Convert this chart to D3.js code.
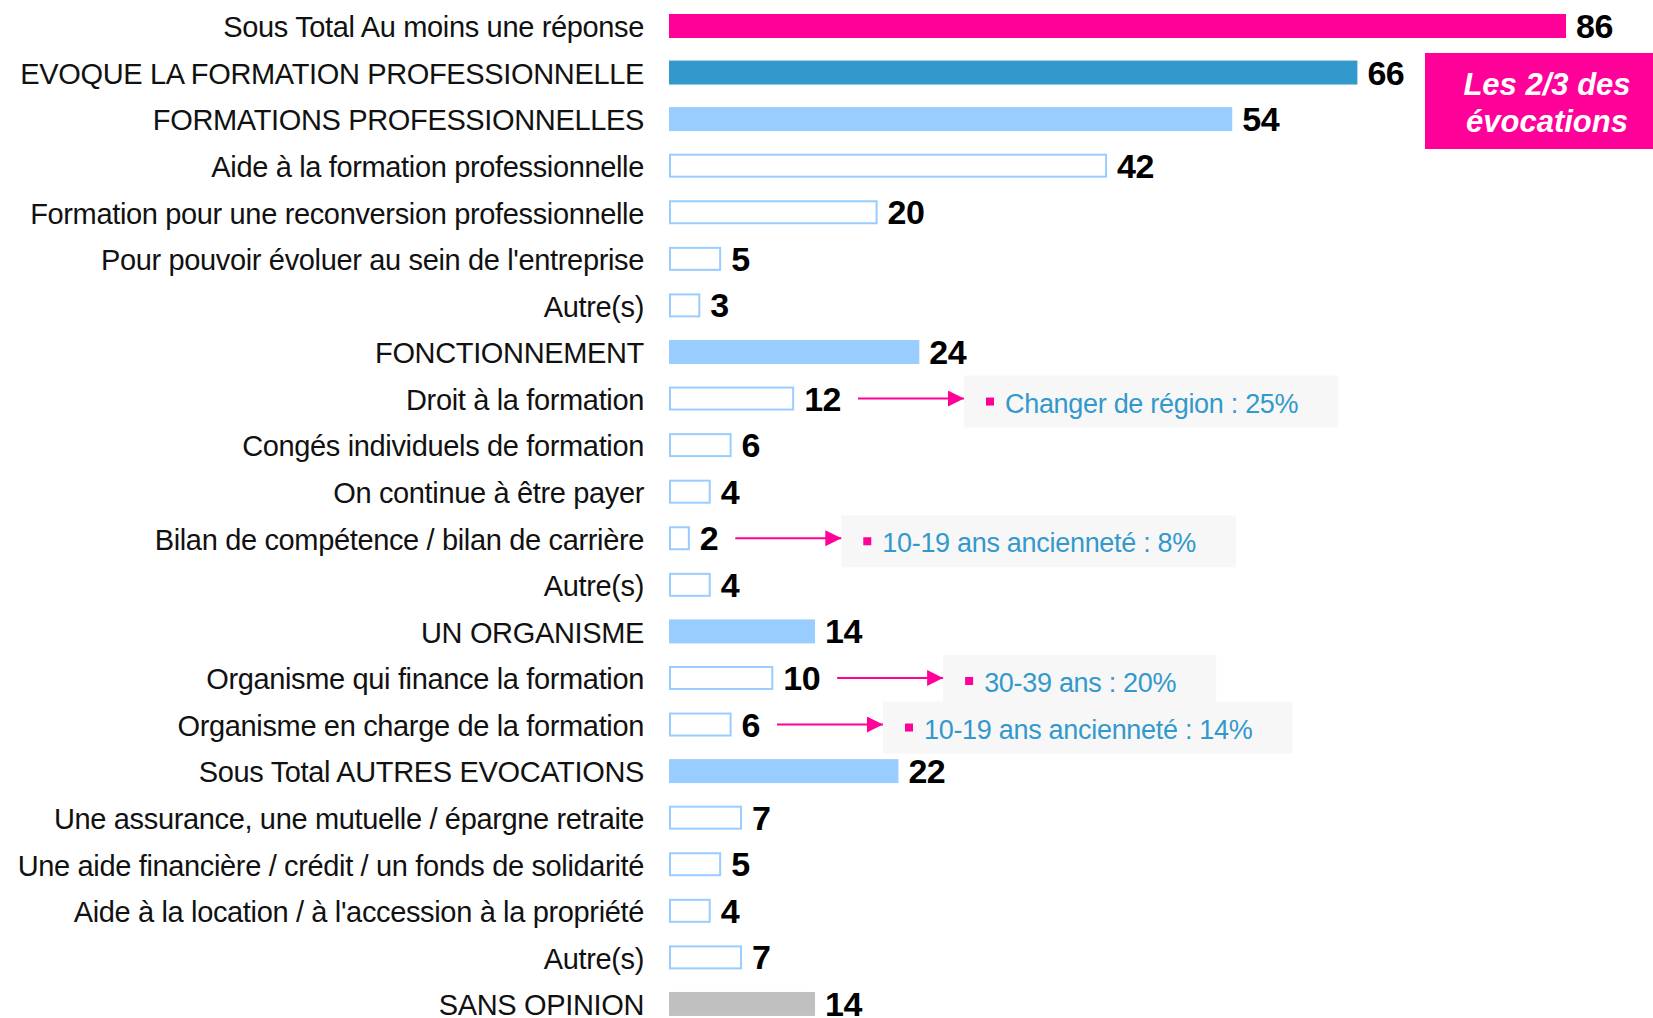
<!DOCTYPE html>
<html><head><meta charset="utf-8">
<script src="https://cdn.jsdelivr.net/npm/d3@7"></script>
<style>body{margin:0;background:#fff} svg{display:block}</style>
</head><body>
<svg id="c" width="1653" height="1018"></svg>
<script>
const labels = [
  "Sous Total Au moins une réponse",
  "EVOQUE LA FORMATION PROFESSIONNELLE",
  "FORMATIONS PROFESSIONNELLES",
  "Aide à la formation professionnelle",
  "Formation pour une reconversion professionnelle",
  "Pour pouvoir évoluer au sein de l'entreprise",
  "Autre(s)",
  "FONCTIONNEMENT",
  "Droit à la formation",
  "Congés individuels de formation",
  "On continue à être payer",
  "Bilan de compétence / bilan de carrière",
  "Autre(s)",
  "UN ORGANISME",
  "Organisme qui finance la formation",
  "Organisme en charge de la formation",
  "Sous Total AUTRES EVOCATIONS",
  "Une assurance, une mutuelle / épargne retraite",
  "Une aide financière / crédit / un fonds de solidarité",
  "Aide à la location / à l'accession à la propriété",
  "Autre(s)",
  "SANS OPINION"
];
const values = [86,66,54,42,20,5,3,24,12,6,4,2,4,14,10,6,22,7,5,4,7,14];
const kinds = ["total","main","sub","item","item","item","item","sub","item","item","item","item","item","sub","item","item","sub","item","item","item","item","none"];
const noteRows = [8, 11, 14, 15];
const noteTexts = ["Changer de région : 25%", "10-19 ans ancienneté : 8%", "30-39 ans : 20%", "10-19 ans ancienneté : 14%"];
const calloutLines = ["Les 2/3 des", "évocations"];

const PINK = "#FF0099";
const fills = {total: PINK, main: "#3399CC", sub: "#99CCFF", item: "#FFFFFF", none: "#C0C0C0"};

const svg = d3.select("#c");
const x = d3.scaleLinear().domain([0, 86]).range([669, 1566]);
const step = 46.57;
const y = d3.scaleBand().domain(d3.range(labels.length))
  .range([2.7, 2.7 + step * labels.length]).paddingInner(0.485).paddingOuter(0.2425);
const bw = y.bandwidth();

// Category axis (labels)
const ax = svg.append("g").attr("transform", `translate(${x(0)},0)`)
  .call(d3.axisLeft(y).tickSize(0).tickPadding(25).tickFormat(i => labels[i]));
ax.select(".domain").remove();
ax.selectAll("text")
  .attr("dy", "0.39em")
  .attr("fill", "#111")
  .style("font-family", "'Liberation Sans', Arial, sans-serif")
  .style("font-size", "29px")
  .style("letter-spacing", "-0.35px");

// Bars
svg.append("g").selectAll("rect").data(values).join("rect")
  .attr("x", (d, i) => kinds[i] === "item" ? x(0) + 1 : x(0))
  .attr("y", (d, i) => kinds[i] === "item" ? y(i) + 1 : y(i))
  .attr("width", (d, i) => kinds[i] === "item" ? x(d) - x(0) - 2 : x(d) - x(0))
  .attr("height", (d, i) => kinds[i] === "item" ? bw - 2 : bw)
  .attr("fill", (d, i) => fills[kinds[i]])
  .attr("stroke", (d, i) => kinds[i] === "item" ? "#99CCFF" : "none")
  .attr("stroke-width", 2);

// Value labels
const vl = svg.append("g").selectAll("text").data(values).join("text")
  .attr("x", d => x(d) + 10)
  .attr("y", (d, i) => y(i) + bw / 2 + 12)
  .attr("fill", "#000")
  .style("font-family", "'Liberation Sans', Arial, sans-serif")
  .style("font-size", "34px")
  .style("font-weight", "bold")
  .style("letter-spacing", "-0.5px")
  .text(d => d);
const vlNodes = vl.nodes();

// Annotations
const defs = svg.append("defs");
defs.append("marker").attr("id", "ah").attr("viewBox", "0 0 16 16")
  .attr("refX", 16).attr("refY", 8).attr("markerWidth", 16).attr("markerHeight", 16)
  .attr("markerUnits", "userSpaceOnUse").attr("orient", "auto")
  .append("path").attr("d", "M0,0 L16,8 L0,16 Z").attr("fill", PINK);

const ng = svg.append("g");
noteRows.forEach((r, k) => {
  const bb = vlNodes[r].getBBox();
  const cy = y(r) + bw / 2;
  const x0 = bb.x + bb.width + 17;
  const x1 = x0 + 106;
  const g = ng.append("g");
  const box = g.append("rect").attr("fill", "#F7F7F7");
  const t = g.append("text")
    .attr("x", x1 + 41).attr("y", cy + 14)
    .attr("fill", "#3399CC")
    .style("font-family", "'Liberation Sans', Arial, sans-serif")
    .style("font-size", "27px")
    .style("letter-spacing", "-0.3px")
    .text(noteTexts[k]);
  const tw = t.node().getComputedTextLength();
  box.attr("x", x1).attr("y", cy - 23).attr("width", tw + 41 + 40).attr("height", 52);
  g.append("rect").attr("x", x1 + 22).attr("y", cy - 1).attr("width", 8).attr("height", 8).attr("fill", PINK);
  g.append("line").attr("x1", x0).attr("x2", x1).attr("y1", cy).attr("y2", cy)
    .attr("stroke", PINK).attr("stroke-width", 2).attr("marker-end", "url(#ah)");
});

// Callout
const cg = svg.append("g");
cg.append("rect").attr("x", 1425).attr("y", 53).attr("width", 228).attr("height", 96).attr("fill", PINK);
cg.selectAll("text").data(calloutLines).join("text")
  .attr("x", 1547).attr("y", (d, i) => 94.5 + i * 37.5)
  .attr("text-anchor", "middle")
  .attr("fill", "#fff")
  .style("font-family", "'Liberation Sans', Arial, sans-serif")
  .style("font-size", "31px")
  .style("font-weight", "bold")
  .style("font-style", "italic")
  .text(d => d);
</script>
</body></html>
